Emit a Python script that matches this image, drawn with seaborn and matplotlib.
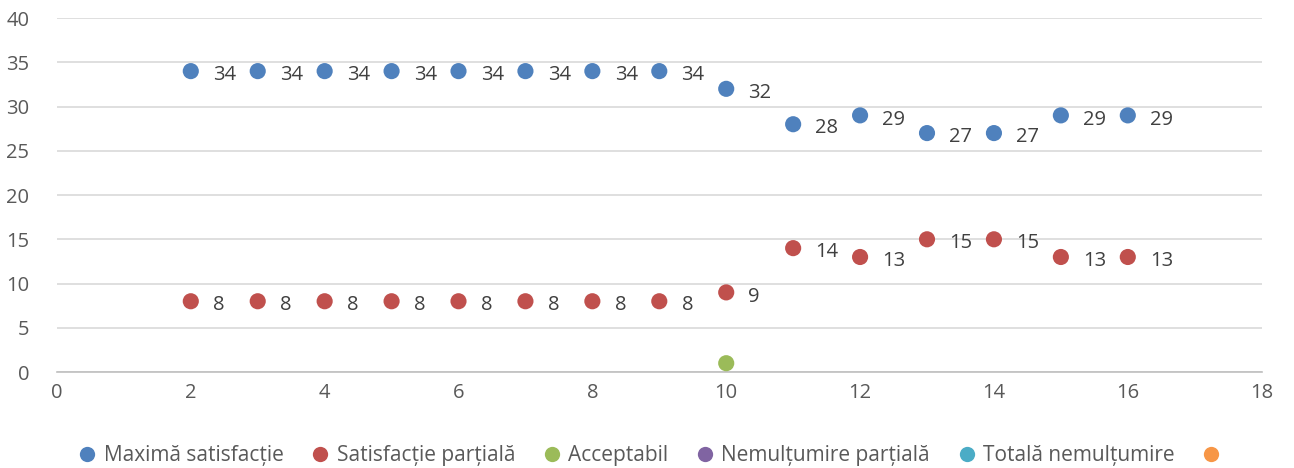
import pandas as pd
import matplotlib.pyplot as plt
import seaborn as sns
from matplotlib.lines import Line2D

x_vals = [2, 3, 4, 5, 6, 7, 8, 9, 10, 11, 12, 13, 14, 15, 16]
maxima = [34, 34, 34, 34, 34, 34, 34, 34, 32, 28, 29, 27, 27, 29, 29]
partiala = [8, 8, 8, 8, 8, 8, 8, 8, 9, 14, 13, 15, 15, 13, 13]
acceptabil_x = [10]
acceptabil = [1]

series_names = ["Maximă satisfacție", "Satisfacție parțială", "Acceptabil",
                "Nemulțumire parțială", "Totală nemulțumire", ""]
colors = ["#4F81BD", "#C0504D", "#9BBB59", "#8064A2", "#4BACC6", "#F79646"]


def build_frame():
    parts = [
        pd.DataFrame({"x": x_vals, "y": maxima, "serie": series_names[0]}),
        pd.DataFrame({"x": x_vals, "y": partiala, "serie": series_names[1]}),
        pd.DataFrame({"x": acceptabil_x, "y": acceptabil, "serie": series_names[2]}),
    ]
    return pd.concat(parts, ignore_index=True)


def main():
    df = build_frame()
    sns.set_theme(style="white")
    plt.rcParams["font.family"] = ["Open Sans", "DejaVu Sans"]

    fig = plt.figure(figsize=(12.94, 4.68), dpi=100)
    ax = fig.add_axes([0.044, 0.205, 0.931, 0.7565])
    palette = dict(zip(series_names[:3], colors[:3]))
    sns.scatterplot(data=df, x="x", y="y", hue="serie", palette=palette,
                    s=135, edgecolor="none", legend=False, ax=ax, zorder=3)

    # data labels (green point has none)
    for name, vals in [(series_names[0], maxima), (series_names[1], partiala)]:
        for xv, yv in zip(x_vals, vals):
            ax.annotate(str(yv), (xv, yv), xytext=(16, -3), textcoords="offset points",
                        ha="left", va="center", fontsize=14.5, color="#404040")

    ax.set_xlim(0, 18)
    ax.set_ylim(0, 40)
    ax.set_xticks(range(0, 19, 2))
    ax.set_yticks(range(0, 41, 5))
    ax.yaxis.grid(True, color="#D9D9D9", linewidth=1.2)
    ax.set_axisbelow(True)
    for side in ["top", "right", "left"]:
        ax.spines[side].set_visible(False)
    ax.spines["bottom"].set_color("#BFBFBF")
    ax.spines["bottom"].set_linewidth(1.2)
    ax.tick_params(axis="both", length=0, labelsize=14.5, labelcolor="#595959", pad=8)
    ax.tick_params(axis="y", pad=20)
    ax.set_xlabel("")
    ax.set_ylabel("")

    handles = [Line2D([0], [0], marker="o", linestyle="none", markersize=11,
                      markerfacecolor=c, markeredgecolor="none") for c in colors]
    fig.legend(handles, series_names, loc="center", bbox_to_anchor=(0.5, 0.027),
               ncol=6, frameon=False, fontsize=15, handletextpad=-0.2,
               columnspacing=0.75, labelcolor="#595959")

    fig.savefig("out.png", dpi=100)


if __name__ == "__main__":
    main()
